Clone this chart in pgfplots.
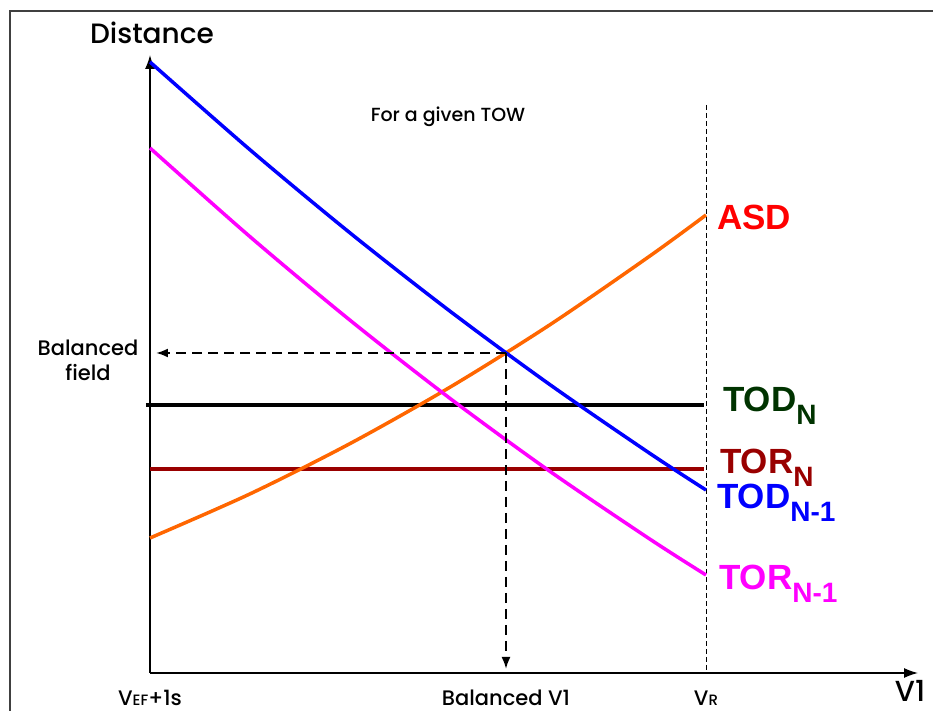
\documentclass[border=0pt]{standalone}
\usepackage{pgfplots}
\pgfplotsset{compat=1.18}
\usepackage{fontspec}
\setmainfont{Poppins}
\newfontfamily\popm{Poppins Medium}
\newfontfamily\arial{Liberation Sans}
\usetikzlibrary{arrows.meta}

\definecolor{asdorange}{RGB}{255,102,0}
\definecolor{todgreen}{RGB}{0,51,0}
\definecolor{tordark}{RGB}{153,0,0}
\definecolor{pinkline}{RGB}{255,0,255}
\definecolor{blueline}{RGB}{0,0,255}

\newcommand{\lab}[2]{{\arial\bfseries\fontsize{35}{35}\selectfont #1\raisebox{-13pt}{\fontsize{28}{28}\selectfont #2}}}

\begin{document}
\begin{tikzpicture}
\begin{axis}[
  x=1pt, y=1pt,
  xmin=150, xmax=918,
  ymin=38, ymax=656,
  enlargelimits=false,
  axis x line=bottom,
  axis y line=left,
  axis line style={line width=1.3pt, -{Latex[length=14pt,width=10pt]}},
  xtick={150,506,706},
  xticklabels={V{\fontsize{15}{15}\selectfont EF}+1s, Balanced V1, V{\fontsize{15}{15}\selectfont R}},
  ytick=\empty,
  major tick length=0pt,
  xticklabel style={anchor=base, yshift=-32pt, font=\popm\fontsize{21}{21}\selectfont},
  clip=false,
]
% frame and page box
\coordinate (bbll) at (axis cs:0,0);
\coordinate (bbur) at (axis cs:933,711);
\draw[line width=2pt, black!75] (axis cs:10,0) -- (axis cs:10,700) -- (axis cs:933,700);

% V_R line
\draw[line width=1pt, dash pattern=on 5pt off 3pt] (axis cs:706,606) -- (axis cs:706,38);

% horizontal lines
\addplot[line width=4pt, black] coordinates {(146,306) (704,306)};
\addplot[line width=4pt, tordark] coordinates {(150,242) (704,242)};

% ASD
\addplot[line width=3.5pt, asdorange, smooth] coordinates {
  (150,173) (250,217.1) (350,267.4) (450,323.8) (550,386.3) (650,455.1) (706,496)};
% TOD N-1
\addplot[line width=3.5pt, blueline, smooth] coordinates {
  (150,649) (250,561.2) (350,478.1) (450,399.8) (550,326.3) (650,257.5) (706,221)};
% TOR N-1
\addplot[line width=3.5pt, pinkline, smooth] coordinates {
  (150,563) (250,474.3) (350,390.8) (450,312.6) (550,239.6) (650,171.8) (706,136)};

% balanced field arrows
\draw[line width=2pt, dash pattern=on 10pt off 6pt, -{Latex[length=12pt,width=9pt]}] (axis cs:506,358) -- (axis cs:156,358);
\draw[line width=2pt, dash pattern=on 10pt off 6pt, -{Latex[length=12pt,width=9pt]}] (axis cs:506,358) -- (axis cs:506,42);

% texts
\node[font=\popm\fontsize{28}{28}\selectfont] at (axis cs:152,678) {Distance};
\node[font=\popm\fontsize{19}{19}\selectfont] at (axis cs:448,594) {For a given TOW};
\node[font=\popm\fontsize{21}{25}\selectfont, align=center] at (axis cs:88,351) {Balanced\\field};
\node[font=\popm\fontsize{29}{29}\selectfont, anchor=base, inner sep=0pt] at (axis cs:910,9) {V1};

\node[anchor=base west, inner sep=0pt, red] at (axis cs:717,481) {\lab{ASD}{}};
\node[anchor=base west, inner sep=0pt, todgreen] at (axis cs:723,299) {\lab{TOD}{N}};
\node[anchor=base west, inner sep=0pt, tordark] at (axis cs:720,237) {\lab{TOR}{N}};
\node[anchor=base west, inner sep=0pt, blueline] at (axis cs:717,202) {\lab{TOD}{N-1}};
\node[anchor=base west, inner sep=0pt, pinkline] at (axis cs:719,121.5) {\lab{TOR}{N-1}};
\end{axis}
\pgfresetboundingbox
\path[use as bounding box] (bbll) rectangle (bbur);
\end{tikzpicture}
\end{document}
